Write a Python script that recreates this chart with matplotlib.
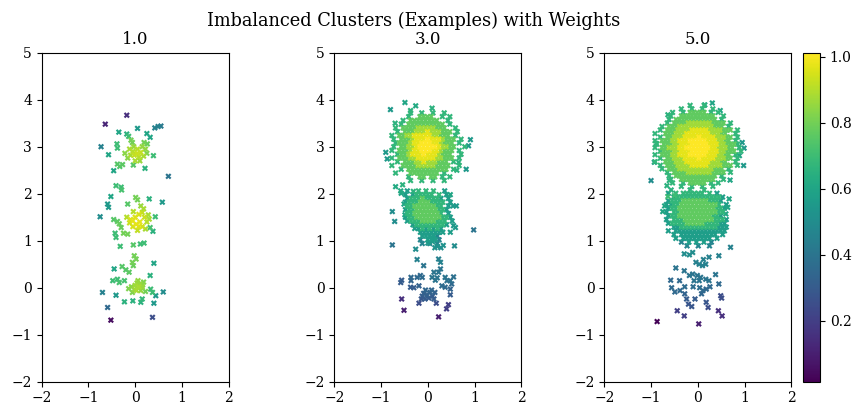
import numpy as np
import matplotlib
matplotlib.use("Agg")
import matplotlib.pyplot as plt
from matplotlib.colors import Normalize

plt.rcParams['font.family'] = ['DejaVu Serif']

suptitle_text = "Imbalanced Clusters (Examples) with Weights"
panel_titles = ["1.0", "3.0", "5.0"]
x_ticks = [-2, -1, 0, 1, 2]
y_ticks = [-2, -1, 0, 1, 2, 3, 4, 5]
cbar_ticks = [0.2, 0.4, 0.6, 0.8, 1.0]
weight_min, weight_max = 0.015, 1.012

# individually read points: (x, y, weight)
p1_points = [
    (-0.18, 3.67, 0.15), (-0.64, 3.48, 0.12), (0.05, 3.39, 0.55),
    (0.42, 3.40, 0.45), (0.49, 3.43, 0.45), (0.55, 3.44, 0.42),
    (-0.35, 3.31, 0.60), (-0.18, 3.27, 0.65), (-0.14, 3.22, 0.70),
    (0.25, 3.28, 0.60), (0.32, 3.20, 0.60), (-0.73, 3.00, 0.45),
    (-0.39, 3.06, 0.70), (-0.38, 2.97, 0.70), (-0.09, 3.14, 0.80),
    (-0.06, 3.09, 0.80), (0.19, 3.09, 0.80), (0.26, 3.06, 0.78),
    (-0.12, 2.95, 0.88), (-0.05, 2.90, 0.90), (0.05, 2.95, 0.90),
    (0.12, 2.88, 0.92), (0.18, 2.80, 0.88), (0.08, 2.78, 0.90),
    (-0.02, 2.82, 0.92), (0.00, 2.70, 0.88), (0.10, 2.70, 0.86),
    (-0.10, 2.82, 0.88), (-0.22, 2.86, 0.84), (0.22, 2.95, 0.85),
    (0.15, 3.00, 0.85), (-0.03, 3.00, 0.86), (0.25, 2.86, 0.82),
    (-0.16, 2.76, 0.84), (0.04, 2.86, 0.93),
    (0.39, 2.81, 0.70), (-0.57, 2.83, 0.60), (-0.38, 2.63, 0.75),
    (-0.27, 2.62, 0.76), (-0.33, 2.58, 0.74), (-0.46, 2.49, 0.60),
    (-0.04, 2.61, 0.75), (0.21, 2.54, 0.65), (0.71, 2.37, 0.40),
    (-0.41, 2.17, 0.70), (-0.30, 2.14, 0.70), (-0.29, 2.08, 0.72),
    (-0.52, 1.94, 0.60), (0.01, 1.92, 0.80), (0.05, 1.87, 0.80),
    (0.30, 1.89, 0.65), (0.58, 1.82, 0.55), (-0.16, 1.78, 0.75),
    (-0.59, 1.78, 0.55), (-0.57, 1.71, 0.55),
    (-0.75, 1.51, 0.50), (-0.46, 1.45, 0.75), (-0.38, 1.41, 0.76),
    (-0.34, 1.36, 0.78), (-0.30, 1.28, 0.78),
    (-0.10, 1.45, 0.95), (0.00, 1.50, 0.96), (0.08, 1.56, 0.95),
    (0.15, 1.60, 0.92), (0.20, 1.50, 0.93), (0.28, 1.55, 0.88),
    (0.10, 1.40, 0.97), (0.02, 1.35, 0.97), (-0.05, 1.30, 0.95),
    (-0.12, 1.38, 0.93), (0.05, 1.22, 0.92), (0.15, 1.30, 0.94),
    (0.25, 1.40, 0.90), (0.30, 1.46, 0.88), (-0.18, 1.50, 0.90),
    (0.18, 1.68, 0.88), (0.12, 1.74, 0.86), (-0.04, 1.62, 0.90),
    (0.22, 1.25, 0.88), (-0.05, 1.42, 0.97), (0.08, 1.30, 0.96),
    (0.43, 1.51, 0.70), (0.32, 1.28, 0.72), (0.38, 1.20, 0.65),
    (-0.43, 1.16, 0.70), (-0.41, 1.07, 0.70), (-0.25, 1.16, 0.80),
    (-0.16, 1.14, 0.80), (-0.32, 0.88, 0.70), (-0.04, 0.91, 0.75),
    (0.11, 0.93, 0.70), (0.19, 0.95, 0.70), (-0.02, 0.68, 0.80),
    (0.02, 0.61, 0.80), (-0.06, 0.54, 0.80), (0.40, 0.52, 0.60),
    (-0.28, 0.45, 0.75), (-0.20, 0.38, 0.75), (-0.13, 0.33, 0.76),
    (-0.04, 0.47, 0.78), (-0.45, 0.40, 0.60),
    (-0.48, 0.15, 0.70), (-0.38, 0.18, 0.70), (-0.34, 0.11, 0.72),
    (-0.23, 0.15, 0.72), (0.32, 0.26, 0.65),
    (0.06, 0.15, 0.85), (0.04, 0.10, 0.86), (0.10, 0.08, 0.86),
    (0.00, 0.05, 0.87), (0.08, 0.02, 0.88), (0.15, 0.02, 0.86),
    (-0.02, -0.04, 0.86), (-0.08, 0.02, 0.84), (-0.14, -0.02, 0.82),
    (0.18, 0.12, 0.82), (0.16, 0.06, 0.84), (0.03, -0.06, 0.88),
    (0.12, -0.06, 0.85), (-0.06, -0.10, 0.82), (0.22, -0.08, 0.80),
    (-0.70, -0.10, 0.45), (-0.41, -0.16, 0.55), (0.33, -0.03, 0.70),
    (0.37, -0.10, 0.70), (0.60, -0.09, 0.50), (0.44, -0.17, 0.55),
    (-0.23, -0.30, 0.65), (-0.05, -0.28, 0.65), (0.12, -0.31, 0.65),
    (0.15, -0.24, 0.68), (0.40, -0.33, 0.55), (-0.59, -0.42, 0.35),
    (-0.52, -0.69, 0.05), (0.37, -0.63, 0.25),
]

p2_points = [
    (-0.80, 3.79, 0.55), (-0.49, 3.94, 0.60), (-0.26, 3.87, 0.62),
    (-0.37, 3.77, 0.65), (0.09, 3.82, 0.65), (-0.70, 3.50, 0.65),
    (0.91, 3.15, 0.55), (0.87, 3.02, 0.55), (-0.90, 2.88, 0.55),
    (-0.87, 2.74, 0.55), (0.82, 2.52, 0.55), (0.66, 2.67, 0.65),
    (0.62, 2.50, 0.65), (-0.69, 2.15, 0.62), (-0.58, 2.06, 0.62),
    (-0.54, 2.19, 0.65), (-0.31, 2.05, 0.65),
    (-0.57, 2.01, 0.60), (-0.51, 1.78, 0.60), (0.61, 1.74, 0.55),
    (0.54, 1.74, 0.55), (-0.76, 1.62, 0.50), (-0.49, 1.55, 0.60),
    (-0.71, 1.41, 0.50), (0.98, 1.23, 0.40), (0.55, 1.32, 0.55),
    (0.59, 1.28, 0.55), (-0.76, 0.91, 0.40), (-0.26, 0.82, 0.50),
    (0.57, 0.89, 0.50), (0.48, 1.98, 0.60),
    (0.00, 0.95, 0.55), (0.10, 0.98, 0.55), (0.20, 0.88, 0.52),
    (0.28, 0.85, 0.50), (0.33, 0.90, 0.52), (0.15, 0.85, 0.52),
    (0.12, 1.05, 0.56),
    (-0.23, 0.60, 0.45), (0.23, 0.61, 0.45), (0.27, 0.54, 0.45),
    (-0.09, 0.47, 0.40), (0.27, 0.40, 0.40), (0.23, 0.33, 0.40),
    (0.13, 0.33, 0.40), (-0.16, 0.26, 0.35), (-0.12, 0.22, 0.36),
    (-0.23, 0.22, 0.35), (-0.36, 0.22, 0.35), (-0.36, 0.15, 0.33),
    (-0.56, 0.16, 0.30), (-0.58, 0.11, 0.30), (0.09, 0.22, 0.40),
    (0.16, 0.16, 0.40), (0.20, 0.21, 0.40), (0.37, 0.22, 0.40),
    (0.41, 0.15, 0.38), (0.55, 0.23, 0.38), (0.48, 0.15, 0.38),
    (0.30, 0.04, 0.36), (0.37, 0.01, 0.35), (0.51, 0.08, 0.35),
    (0.48, -0.03, 0.33), (-0.37, 0.01, 0.30), (-0.30, 0.00, 0.30),
    (-0.19, 0.04, 0.32),
    (-0.09, -0.12, 0.32), (-0.02, -0.15, 0.32), (0.05, -0.10, 0.33),
    (0.10, -0.18, 0.30), (0.02, -0.22, 0.30), (-0.06, -0.24, 0.30),
    (0.13, -0.24, 0.30), (-0.12, -0.18, 0.30), (-0.14, -0.24, 0.28),
    (0.08, -0.05, 0.34), (-0.05, -0.05, 0.34), (0.15, -0.10, 0.32),
    (0.48, -0.15, 0.30), (-0.56, -0.24, 0.15), (-0.19, -0.33, 0.25),
    (0.18, -0.33, 0.25), (0.44, -0.36, 0.20), (0.40, -0.45, 0.20),
    (-0.51, -0.48, 0.10), (0.23, -0.62, 0.10),
]

p3_points = [
    (0.31, 3.93, 0.60), (0.15, 3.89, 0.60), (0.48, 3.77, 0.60),
    (-0.64, 3.68, 0.65), (0.95, 3.09, 0.55), (0.99, 2.97, 0.55),
    (-0.89, 3.07, 0.65), (0.89, 2.81, 0.60), (-0.93, 2.67, 0.55),
    (0.98, 2.60, 0.55), (0.69, 2.29, 0.60), (-1.00, 2.28, 0.50),
    (-0.61, 2.28, 0.65), (-0.66, 2.17, 0.65), (-0.57, 2.08, 0.65),
    (-0.64, 1.94, 0.70), (-0.50, 1.96, 0.70), (-0.71, 1.74, 0.60),
    (-0.75, 1.62, 0.60), (-0.57, 1.77, 0.60), (0.64, 1.71, 0.60),
    (0.60, 1.57, 0.60), (0.67, 1.89, 0.60), (0.70, 0.86, 0.45),
    (-0.29, 0.72, 0.50), (-0.11, 0.75, 0.50), (-0.18, 0.70, 0.50),
    (0.45, 0.68, 0.45), (0.24, 0.65, 0.45), (0.17, 0.50, 0.45),
    (-0.04, 0.54, 0.45), (0.03, 0.50, 0.45), (0.10, 0.47, 0.45),
    (0.12, 0.60, 0.45),
    (-0.47, 0.42, 0.40), (-0.29, 0.36, 0.40), (-0.18, 0.26, 0.40),
    (-0.11, 0.29, 0.40), (-0.01, 0.26, 0.40), (0.06, 0.22, 0.40),
    (-0.08, 0.15, 0.40), (0.03, 0.15, 0.40), (0.17, 0.18, 0.40),
    (0.24, 0.15, 0.40), (-0.58, 0.16, 0.35), (-0.39, 0.15, 0.35),
    (0.38, 0.28, 0.40), (0.45, 0.08, 0.35),
    (-0.56, 0.00, 0.35), (-0.49, -0.09, 0.35), (-0.38, -0.06, 0.35),
    (-0.28, -0.13, 0.33), (-0.28, 0.02, 0.36), (-0.10, 0.02, 0.37),
    (0.04, 0.00, 0.37), (0.11, -0.06, 0.35), (0.18, -0.03, 0.35),
    (0.26, 0.02, 0.35), (0.08, -0.13, 0.34),
    (0.49, -0.17, 0.25), (0.51, -0.22, 0.25),
    (-0.24, -0.24, 0.30), (-0.06, -0.24, 0.30), (-0.20, -0.35, 0.28),
    (-0.13, -0.40, 0.28), (0.18, -0.31, 0.28), (0.22, -0.42, 0.25),
    (-0.44, -0.49, 0.20), (-0.29, -0.60, 0.20), (0.44, -0.49, 0.15),
    (0.52, -0.60, 0.15), (-0.87, -0.72, 0.02), (0.02, -0.77, 0.10),
]

# dense cores read as weight maps: (x of first column, y of first row, cell, rows)
# digit d -> weight (d + 1.7) / 10 ; odd rows sit half a cell to the right
p2_top_map = (-0.93, 3.72, 0.08, [
    ".......5..5..5..5......",
    "......5..6666..5.5.....",
    ".....5.66666666..5.....",
    "....5.6666666666.5.....",
    "...5.666677777666..5...",
    "...5.6667778777666.5...",
    "..5.66778888877666.5...",
    "..5.666788898887666.5..",
    "...5666788999887666.5..",
    "..5.667789999987766..5.",
    "..5.666788999887666.5..",
    "...566788898887666..5..",
    "..5.666778888877666.5..",
    "...5.666778777666.5....",
    "..5..6666777776666..5..",
    "....5.66666666666.5....",
    "...5...66666666.5......",
    "......5..66.66.5.5.....",
    ".......5..5..5..5......",
])

p2_mid_map = (-0.60, 2.06, 0.08, [
    "..4..5.5.5..4..",
    ".4.455555.5.4..",
    "..4555655554.4.",
    ".45556665555.4.",
    "..5566666655.4.",
    ".455666666554..",
    "..5566666665.4.",
    ".4556666666554.",
    "..45556666555.4",
    "...4555555554..",
    "....44545454...",
    ".....4444444.4.",
    "......44443....",
    ".....3.4443....",
    "......3.3.3....",
])

p3_top_map = (-0.99, 3.88, 0.075, [
    "...........5...5...........",
    "........5..5..5..5.........",
    "......5..5.66666.5.5.......",
    ".....5..6666666666..5......",
    ".....5.666666666666.5......",
    "....5.666677777776666.5....",
    "...5.6667777777777666.5....",
    "..5.6667777888887777666.5..",
    ".5..666777888888877766..5..",
    "..5.6677788889888877766.5..",
    ".5.66677888999998887766.5..",
    ".5.6667788899999888776665..",
    ".5.667778899999998877766.5.",
    "..5666778889999988877666.5.",
    ".5.66677888999998887766.5..",
    "..5.6677788889888877766.5..",
    ".5..666777888888877766..5..",
    "..5.6667777888887777666.5..",
    "...5.6667777777777666.5....",
    "....5.666677777776666.5....",
    ".....5.666666666666.5......",
    ".....5..6666666666..5......",
    "......5..5.66666.5.5.......",
    "........5..5..5..5.........",
    "...........5...5...........",
])

p3_mid_map = (-0.71, 2.01, 0.08, [
    ".4.5.555555.5.4..",
    "..45555555555554.",
    ".455566666665554.",
    "4.5566666666665.4",
    ".4556666666666554",
    "4.55666666666655.",
    ".455666666666554.",
    "4.555666666665554",
    ".4555566666555544",
    "..445555555555444",
    ".4.44444444444444",
    "..4.4444444444.4.",
    "...4.44444444.4..",
    "....3.4.4.4.3....",
    "......3..3..3....",
])


def map_points(spec):
    x0, y0, cell, rows = spec
    pts = []
    for r, row in enumerate(rows):
        shift = 0.5 * (r % 2)
        for c, ch in enumerate(row):
            if ch.isdigit():
                pts.append((x0 + (c + shift) * cell, y0 - r * cell,
                            (int(ch) + 1.7) / 10))
    return pts


panels = [
    p1_points,
    p2_points + map_points(p2_top_map) + map_points(p2_mid_map),
    p3_points + map_points(p3_top_map) + map_points(p3_mid_map),
]

fig = plt.figure(figsize=(8.54, 4.09), dpi=100)
lefts = [0.0488, 0.3915, 0.7076]
bottom, width, height = 0.0667, 0.219, 0.8044
norm = Normalize(vmin=weight_min, vmax=weight_max)

sc = None
for left, pts, title in zip(lefts, panels, panel_titles):
    ax = fig.add_axes([left, bottom, width, height])
    arr = np.array(sorted(pts, key=lambda p: p[2]))
    sc = ax.scatter(arr[:, 0], arr[:, 1], c=arr[:, 2], cmap='viridis', norm=norm,
                    marker='X', s=19, linewidths=0)
    ax.set_xlim(-2, 2)
    ax.set_ylim(-2, 5)
    ax.set_xticks(x_ticks)
    ax.set_yticks(y_ticks)
    ax.tick_params(labelsize=10)
    ax.set_title(title, fontsize=12)

cax = fig.add_axes([0.9406, bottom, 0.0196, height])
cb = fig.colorbar(sc, cax=cax, ticks=cbar_ticks)
cb.ax.tick_params(labelsize=10)

fig.suptitle(suptitle_text, fontsize=12.8, x=0.4842, y=0.972)
fig.savefig("out.png", dpi=100)
